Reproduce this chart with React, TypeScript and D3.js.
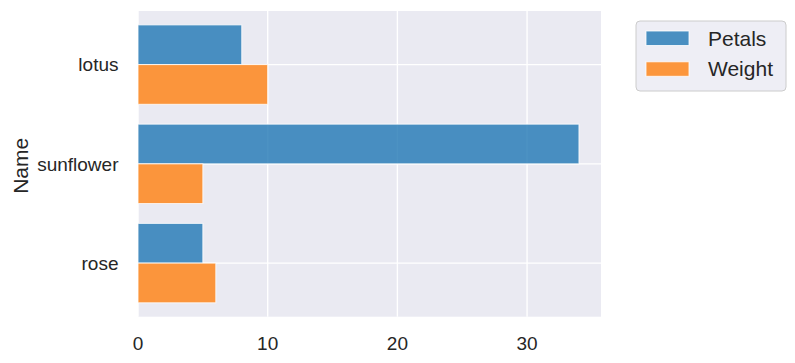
import React from 'react';
import * as d3 from 'd3';

// data, bottom to top as plotted
const names = ['rose', 'sunflower', 'lotus'];
const petals = [5, 34, 8];
const weight = [6, 5, 10];
const seriesNames = ['Petals', 'Weight'];
const xTicks = [0, 10, 20, 30];

const width = 795;
const height = 363;
const plot = { left: 138, right: 601, top: 11, bottom: 316.7 };
const colors = ['#1f77b4', '#ff7f0e'];
const textColor = '#262626';
const font = '"Liberation Sans", Arial, sans-serif';

const App = () => {
  const x = d3.scaleLinear().domain([0, 35.7]).range([plot.left, plot.right]);
  const y = d3.scaleLinear().domain([-0.54, 2.54]).range([plot.bottom, plot.top]);
  const barH = y(0) - y(0.4);
  const series = [petals, weight];

  return (
    <svg
      width={width}
      height={height}
      style={{ position: 'absolute', left: 0, top: 0, fontFamily: font }}
    >
      <rect x={0} y={0} width={width} height={height} fill="#ffffff" />
      {/* plot background */}
      <rect
        x={plot.left}
        y={plot.top}
        width={plot.right - plot.left}
        height={plot.bottom - plot.top}
        fill="#eaeaf2"
      />
      {/* grid */}
      {xTicks.map((t) => (
        <line key={'gx' + t} x1={x(t)} x2={x(t)} y1={plot.top} y2={plot.bottom} stroke="#fff" strokeWidth={1.4} />
      ))}
      {names.map((n, i) => (
        <line key={'gy' + n} x1={plot.left} x2={plot.right} y1={y(i)} y2={y(i)} stroke="#fff" strokeWidth={1.4} />
      ))}
      {/* bars */}
      {series.map((vals, s) =>
        vals.map((v, i) => {
          const top = s === 0 ? y(i + 0.4) : y(i);
          return (
            <rect
              key={`b${s}-${i}`}
              x={x(0)}
              y={top}
              width={x(v) - x(0)}
              height={barH}
              fill={colors[s]}
              fillOpacity={0.8}
              stroke="#fff"
              strokeOpacity={0.8}
              strokeWidth={1}
            />
          );
        })
      )}
      {/* x tick labels */}
      {xTicks.map((t) => (
        <text key={'tx' + t} x={x(t)} y={350} textAnchor="middle" fontSize={19} fill={textColor}>
          {t}
        </text>
      ))}
      {/* y tick labels */}
      {names.map((n, i) => (
        <text key={'ty' + n} x={118.5} y={y(i)} dy="0.35em" textAnchor="end" fontSize={19} fill={textColor}>
          {n}
        </text>
      ))}
      {/* y axis label */}
      <text
        transform={`translate(28, ${(plot.top + plot.bottom) / 2 + 2}) rotate(-90)`}
        textAnchor="middle"
        fontSize={21}
        fill={textColor}
      >
        Name
      </text>
      {/* legend */}
      <g>
        <rect x={636} y={21} width={150} height={70} rx={4} fill="#eaeaf2" fillOpacity={0.8} stroke="#cccccc" strokeWidth={1} />
        {seriesNames.map((s, k) => (
          <g key={'lg' + s}>
            <rect
              x={646}
              y={31 + k * 30.8}
              width={43}
              height={14.5}
              fill={colors[k]}
              fillOpacity={0.8}
              stroke="#fff"
              strokeOpacity={0.8}
              strokeWidth={1}
            />
            <text x={708} y={38.3 + k * 30.8} dy="0.35em" fontSize={21} fill={textColor}>
              {s}
            </text>
          </g>
        ))}
      </g>
    </svg>
  );
};

export default App;
